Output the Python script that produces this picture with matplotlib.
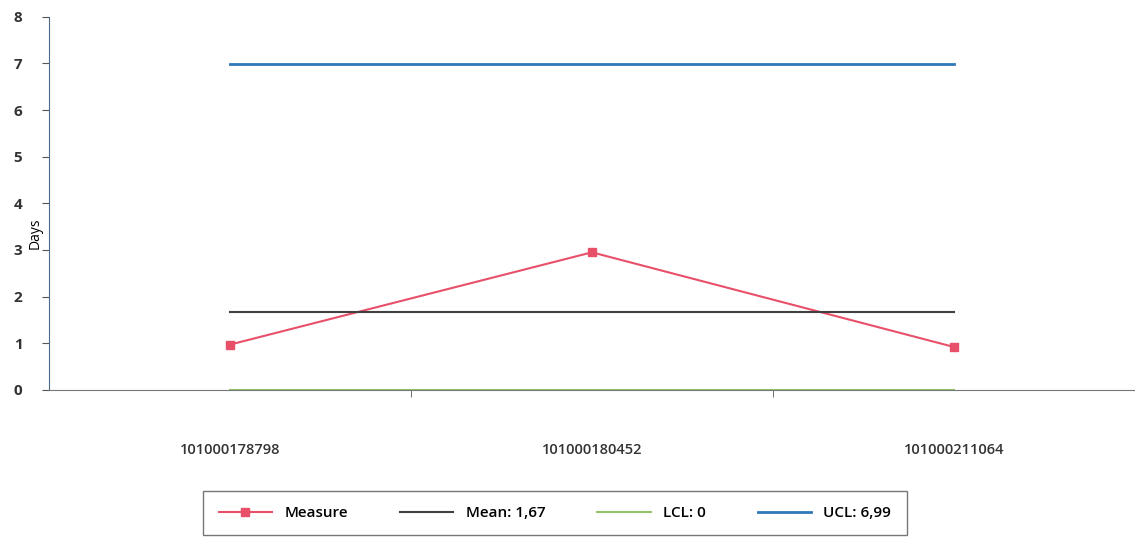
import numpy as np
import matplotlib.pyplot as plt

plt.rcParams['font.family'] = ['Open Sans', 'DejaVu Sans']

# data
orders = ['101000178798', '101000180452', '101000211064']
measure = [0.97, 2.95, 0.92]
mean_val = 1.67
lcl_val = 0
ucl_val = 6.99

fig = plt.figure(figsize=(11.35, 5.43), dpi=100)
ax = fig.add_axes([0.043, 0.282, 0.957, 0.687])

x = np.arange(len(orders))
ax.plot(x, measure, color='#e8506a', lw=1.5, marker='s', ms=6, label='Measure')
ax.plot(x, [mean_val] * len(x), color='#404040', lw=1.5, label='Mean: 1,67')
ax.plot(x, [lcl_val] * len(x), color='#92c46d', lw=1.5, label='LCL: 0')
ax.plot(x, [ucl_val] * len(x), color='#2f78b8', lw=2, label='UCL: 6,99')

ax.set_xlim(-0.5, 2.5)
ax.set_ylim(0, 8)
ax.set_yticks(range(0, 9))
ax.set_xticks(x)
ax.set_xticklabels(orders, fontsize=10.5, color='#333333', fontweight='semibold')
ax.set_xticks([0.5, 1.5], minor=True)
ax.tick_params(axis='x', which='major', length=0, pad=38)
ax.tick_params(axis='x', which='minor', length=5, color='#555555')
ax.tick_params(axis='y', length=5, color='#555555', labelsize=11, labelcolor='#333333', pad=14)
for lab in ax.get_yticklabels():
    lab.set_fontweight('bold')

ax.spines['top'].set_visible(False)
ax.spines['right'].set_visible(False)
ax.spines['left'].set_color('#4a6a8a')
ax.spines['bottom'].set_color('#777777')

ax.set_ylabel('Days', fontsize=10)
ax.yaxis.set_label_coords(-0.006, 0.42)

leg = fig.legend(loc='center', bbox_to_anchor=(0.489, 0.055), ncol=4, frameon=True,
                 fancybox=False, edgecolor='#555555',
                 handlelength=3.5, columnspacing=3.4, borderpad=1.0,
                 prop={'weight': 'semibold', 'size': 11})
leg.get_frame().set_linewidth(1)

fig.savefig('out.png', dpi=100)
